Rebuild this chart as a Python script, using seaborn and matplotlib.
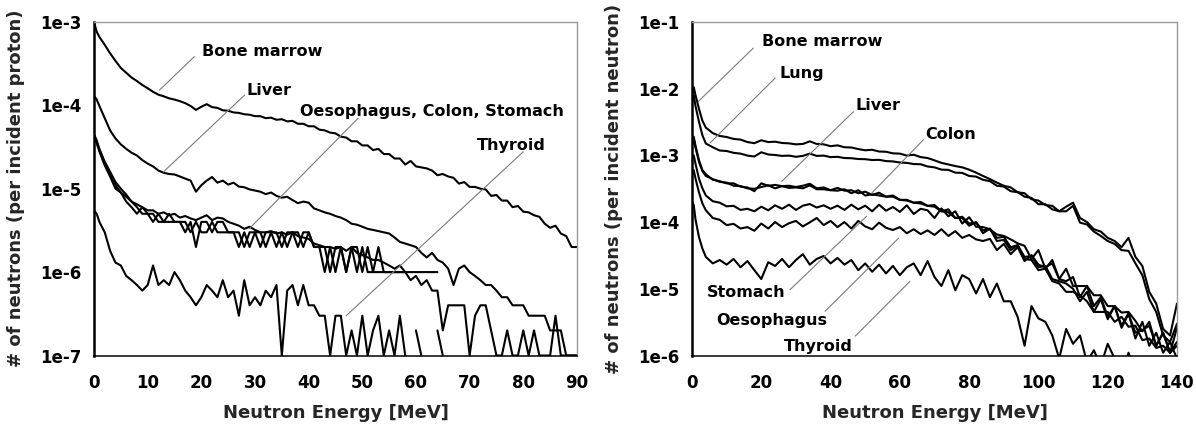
import numpy as np
import pandas as pd
import matplotlib
matplotlib.use("Agg")
import matplotlib.pyplot as plt
import seaborn as sns
from matplotlib.ticker import FixedLocator, NullLocator, FuncFormatter

# ---------------- data: left panel (per incident proton, units of 1e-7) ----------------
energy_left = [0, 0.5] + list(range(1, 91))
unit_left = 1e-7

bone_marrow_left = [10000, 7600,
    6600, 5300, 4200, 3400, 2800, 2450, 2150, 1950, 1750, 1600,
    1450, 1340, 1280, 1210, 1170, 1120, 1060, 980, 880, 960,
    1030, 950, 930, 870, 860, 820, 810, 780, 770, 740,
    740, 700, 710, 670, 680, 640, 650, 600, 600, 560,
    560, 510, 500, 470, 460, 420, 410, 370, 370, 330,
    330, 290, 300, 260, 260, 230, 230, 195, 215, 185,
    180, 175, 165, 145, 150, 140, 135, 115, 120, 105,
    105, 100, 98, 82, 84, 72, 72, 60, 62, 53,
    52, 48, 46, 38, 34, 36, 29, 27, 20, 20]

liver_left = [1300, 1170,
    980, 700, 500, 400, 340, 300, 270, 250, 220, 200,
    185, 165, 155, 150, 148, 140, 132, 125, 92, 110,
    125, 138, 118, 125, 112, 118, 106, 104, 98, 95,
    92, 86, 90, 82, 78, 80, 73, 67, 70, 68,
    58, 55, 52, 50, 47, 45, 42, 38, 37, 35,
    33, 32, 31, 30, 29, 26, 23, 22, 21, 20,
    17, 15, 17, 14, 13, 11, 7, 11, 12, 10,
    9, 8, 7, 7, 6, 5, 5, 4, 4, 4,
    3, 3, 3, 3, 2, 2, 2, 1, 1, 1]

oesophagus_left = [450, 380,
    300, 210, 160, 120, 100, 85, 70, 65, 60, 55,
    55, 50, 52, 48, 50, 45, 47, 44, 42, 45,
    48, 42, 45, 44, 40, 38, 36, 33, 35, 32,
    30, 30, 31, 29, 30, 28, 30, 27, 26, 25,
    22, 21, 20, 20, 19, 20, 18, 20, 17, 16,
    15, 14, 14, 13, 12, 11, 12, 10, None, None,
    None, None, None, None, None, None, None, None, None, None,
    None, None, None, None, None, None, None, None, None, None,
    None, None, None, None, None, None, None, None, None, None]

colon_left = [400, 350,
    280, 190, 140, 100, 90, 70, 60, 50, 60, 50,
    40, 50, 40, 40, 40, 40, 30, 40, 20, 40,
    40, 30, 40, 40, 30, 30, 20, 30, 20, 30,
    30, 20, 30, 20, 30, 20, 30, 30, 20, 30,
    20, 20, 10, 20, 10, 20, 10, 20, 10, 20,
    10, 10, 10, 10, 10, 10, 10, 10, 10, 10,
    10, 10, 10, 10, None, None, None, None, None, None,
    None, None, None, None, None, None, None, None, None, None,
    None, None, None, None, None, None, None, None, None, None]

stomach_left = [420, 360,
    290, 200, 150, 110, 90, 80, 70, 60, 50, 50,
    50, 40, 40, 50, 40, 40, 40, 30, 40, 30,
    30, 40, 30, 30, 30, 30, 30, 20, 30, 30,
    20, 30, 30, 30, 20, 30, 30, 20, 30, 30,
    20, 20, 20, 10, 20, 20, 10, 20, 20, 10,
    20, 10, 20, 10, 10, 10, 10, 10, 8, 9,
    7, 8, 6, 6, 2, 4, 4, 4, 4, 1,
    3, 4, 4, 2, 1, 1, 2, 1, 1, 2,
    1, 2, 1, 1, 1, 3, 1, 1, 1, 1]

thyroid_left = [55, 50,
    40, 30, 18, 13, 12, 9, 8, 7, 6, 7,
    12, 7, 8, 7, 10, 8, 6, 5, 4, 5,
    7, 6, 5, 8, 5, 6, 3, 8, 4, 5,
    4, 6, 5, 7, 1, 6, 7, 4, 7, 4,
    4, 3, 3, 1, 3, 3, 1, 2, 1, 3,
    1, 2, 3, 1, 2, 1, 3, 1, None, 2,
    1, None, None, 2, 1, None, None, None, None, None,
    None, None, None, None, None, None, None, None, None, None,
    None, None, None, None, None, None, None, None, None, None]

# ---------------- data: right panel (per incident neutron, units of 1e-6) ----------------
energy_right = [0, 0.5, 1, 2, 3] + list(range(4, 141, 2))
unit_right = 1e-6

bone_marrow_right = [8000, 10500, 8000, 5000, 3300,
    2600, 2150, 1950, 1880, 1760, 1720, 1580, 1520, 1680, 1580,
    1600, 1530, 1510, 1460, 1480, 1620, 1480, 1460, 1370, 1410,
    1320, 1310, 1240, 1190, 1210, 1140, 1130, 1070, 1060, 990,
    1020, 940, 910, 840, 770, 730, 690, 660, 610, 550,
    490, 440, 390, 350, 330, 280, 270, 220, 210, 180,
    175, 145, 170, 195, 115, 100, 78, 72, 58, 52,
    42, 58, 30, 22, 9, 6, 2.5, 2, 6]

lung_right = [6000, 8000, 5500, 3200, 2000,
    1500, 1320, 1180, 1160, 1090, 1060, 990, 960, 1110, 1030,
    1010, 980, 990, 950, 980, 1060, 980, 990, 940, 950,
    910, 905, 880, 875, 850, 855, 820, 810, 780, 770,
    740, 735, 680, 660, 610, 605, 550, 545, 490, 480,
    430, 410, 350, 340, 290, 280, 240, 230, 185, 185,
    155, 145, 145, 175, 98, 92, 72, 62, 52, 47,
    38, 37, 24, 16, 7, 4.5, 2, 1.6, 3]

liver_right = [1500, 1900, 1400, 850, 600,
    520, 430, 410, 380, 380, 340, 330, 290, 380, 350,
    360, 345, 350, 335, 350, 375, 320, 330, 300, 325,
    295, 300, 270, 285, 255, 275, 240, 250, 215, 215,
    195, 200, 175, 180, 145, 155, 115, 120, 95, 98,
    75, 78, 58, 60, 42, 45, 30, 31, 21, 22,
    14, 13, 12, 10, 6.5, 9, 4.5, 7, 3.5, 5.5,
    2.6, 4.2, 2.2, 2.4, 2.8, 1.4, 2.2, 1.1, 2.6]

colon_right = [1400, 1800, 1300, 800, 580,
    490, 440, 400, 390, 350, 345, 320, 315, 335, 355,
    320, 345, 325, 330, 320, 355, 310, 310, 300, 295,
    310, 270, 300, 250, 260, 250, 240, 240, 215, 210,
    195, 190, 175, 170, 145, 140, 115, 115, 88, 100,
    68, 80, 52, 54, 38, 45, 28, 27, 19, 20,
    13, 12, 9, 9, 8, 6.5, 4.5, 4.5, 4.5, 3.2,
    3.8, 2.7, 2.8, 1.7, 1.8, 1.3, 1.4, 1.1, 1.4]

stomach_right = [900, 1000, 750, 450, 320,
    250, 205, 195, 172, 175, 152, 158, 145, 170, 150,
    178, 158, 182, 152, 176, 186, 165, 178, 158, 176,
    152, 182, 155, 176, 145, 182, 148, 168, 142, 178,
    132, 158, 150, 115, 160, 122, 145, 95, 118, 85,
    84, 78, 65, 62, 55, 48, 44, 28, 38, 20,
    27, 14, 20, 11, 11, 11, 8, 8, 5.5, 5.5,
    4.4, 4.5, 3.3, 2.3, 3.2, 1.4, 2.2, 1.1, 1.6]

oesophagus_right = [500, 600, 450, 280, 190,
    150, 115, 108, 90, 94, 80, 84, 74, 95, 80,
    100, 84, 96, 104, 86, 99, 115, 90, 104, 84,
    100, 80, 104, 86, 78, 98, 82, 76, 84, 68,
    78, 66, 75, 64, 78, 62, 73, 58, 64, 55,
    52, 56, 38, 47, 33, 42, 26, 32, 23, 21,
    24, 14, 13, 15, 7.5, 11, 5.5, 7.5, 3.8, 5.5,
    2.8, 4.3, 1.8, 3.2, 1.4, 2.2, 1.1, 1.6, 0.9]

thyroid_right = [200, 180, 110, 60, 40,
    30, 24, 27, 23, 28, 21, 26, 19, 14, 25,
    22, 28, 21, 27, 33, 23, 28, 31, 24, 29,
    23, 27, 19, 24, 18, 23, 17, 22, 16, 21,
    24, 16, 26, 15, 11, 19, 9.5, 16, 14, 8.5,
    14, 7.5, 12, 6.5, 6.5, 3.8, 1.4, 5.5, 3.6, 3.2,
    2, 0.9, 2.5, 1.5, 2, 0.8, 1.2, 0.7, 1.5, 0.9,
    0.5, 1.1, 0.6, 0.8, 0.5, 0.9, 0.4, 0.7, 0.5]

left_series = {"Bone marrow": bone_marrow_left, "Liver": liver_left,
               "Oesophagus": oesophagus_left, "Colon": colon_left,
               "Stomach": stomach_left, "Thyroid": thyroid_left}
right_series = {"Bone marrow": bone_marrow_right, "Lung": lung_right,
                "Liver": liver_right, "Colon": colon_right,
                "Stomach": stomach_right, "Oesophagus": oesophagus_right,
                "Thyroid": thyroid_right}

# labels: text, text anchor (E, value), leader start, leader end
left_labels = [
    ("Bone marrow", (20.1, 4.4e-4), (18.7, 3.83e-4), (12.2, 1.52e-4)),
    ("Liver", (28.5, 1.52e-4), (28.1, 1.33e-4), (12.9, 1.58e-5)),
    ("Oesophagus, Colon, Stomach", (38.3, 8.4e-5), (49.2, 6.97e-5), (28.9, 3.3e-6)),
    ("Thyroid", (71.3, 3.33e-5), (80.0, 2.77e-5), (47.0, 3.0e-7)),
]
right_labels = [
    ("Bone marrow", (20.1, 5.07e-2), (17.7, 4.04e-2), (1.8, 6.4e-3)),
    ("Lung", (25.2, 1.67e-2), (24.0, 1.44e-2), (5.2, 1.53e-3)),
    ("Liver", (47.3, 5.5e-3), (46.6, 4.5e-3), (25.9, 4.07e-4)),
    ("Colon", (67.3, 2.04e-3), (66.8, 1.71e-3), (51.9, 2.72e-4)),
    ("Stomach", (4.2, 8.9e-6), (28.3, 9.7e-6), (50.4, 1.22e-4)),
    ("Oesophagus", (7.1, 3.4e-6), (38.4, 4.6e-6), (59.6, 5.7e-5)),
    ("Thyroid", (26.4, 1.38e-6), (47.1, 1.95e-6), (62.9, 1.29e-5)),
]


def long_frame(energies, series, unit):
    rows = []
    for organ, vals in series.items():
        seg = 0
        gap = False
        for e, v in zip(energies, vals):
            if v is None:
                if not gap:
                    seg += 1
                gap = True
                continue
            gap = False
            rows.append((organ, f"{organ}-{seg}", e, v * unit))
    return pd.DataFrame(rows, columns=["organ", "segment", "energy", "count"])


sns.set_style("white")
plt.rcParams["font.family"] = ["DejaVu Sans"]
plt.rcParams["font.weight"] = "bold"
plt.rcParams["axes.labelweight"] = "bold"

fig = plt.figure(figsize=(11.96, 4.24), dpi=100)
ax1 = fig.add_axes([0.0786, 0.1615, 0.4038, 0.787])
ax2 = fig.add_axes([0.5786, 0.1615, 0.4055, 0.787])

panels = [
    (ax1, long_frame(energy_left, left_series, unit_left), (0, 90), np.arange(0, 91, 10),
     (1e-7, 1e-3), [1e-7, 1e-6, 1e-5, 1e-4, 1e-3], "# of neutrons (per incident proton)", left_labels),
    (ax2, long_frame(energy_right, right_series, unit_right), (0, 140), np.arange(0, 141, 20),
     (1e-6, 1e-1), [1e-6, 1e-5, 1e-4, 1e-3, 1e-2, 1e-1], "# of neutrons (per incident neutron)", right_labels),
]

for ax, df, xlim, xticks, ylim, yticks, ylabel, labels in panels:
    ax.set_yscale("log")
    sns.lineplot(data=df, x="energy", y="count", units="segment", estimator=None,
                 color="black", linewidth=1.5, sort=False, legend=False, ax=ax)
    ax.set_xlim(*xlim)
    ax.set_ylim(*ylim)
    ax.xaxis.set_major_locator(FixedLocator(xticks))
    ax.yaxis.set_major_locator(FixedLocator(yticks))
    ax.yaxis.set_minor_locator(NullLocator())
    ax.xaxis.set_minor_locator(NullLocator())
    ax.yaxis.set_major_formatter(FuncFormatter(lambda v, p: f"1e{int(round(np.log10(v)))}"))
    ax.set_xlabel("Neutron Energy [MeV]", fontsize=13, fontweight="bold")
    ax.set_ylabel(ylabel, fontsize=13, fontweight="bold")
    ax.xaxis.set_label_coords(0.5, -0.145)
    ax.yaxis.set_label_coords(-0.142, 0.5)
    ax.tick_params(axis="both", which="major", direction="out", length=4, width=1,
                   colors="black", labelsize=12)
    ax.tick_params(axis="x", pad=9)
    ax.tick_params(axis="y", pad=5)
    ax.spines["left"].set_color("black")
    ax.spines["left"].set_linewidth(1.8)
    ax.spines["bottom"].set_color("black")
    ax.spines["bottom"].set_linewidth(1.1)
    for s in ("top", "right"):
        ax.spines[s].set_color("#9a9a9a")
        ax.spines[s].set_linewidth(1.0)
    ax.grid(False)
    for text, pos, start, end in labels:
        ax.text(pos[0], pos[1], text, fontsize=11.5, fontweight="bold",
                ha="left", va="center", color="black")
        ax.annotate("", xy=end, xytext=start,
                    arrowprops=dict(arrowstyle="-", color="#7a7a7a", lw=0.8,
                                    shrinkA=0, shrinkB=0))

fig.savefig("out.png", dpi=100)
